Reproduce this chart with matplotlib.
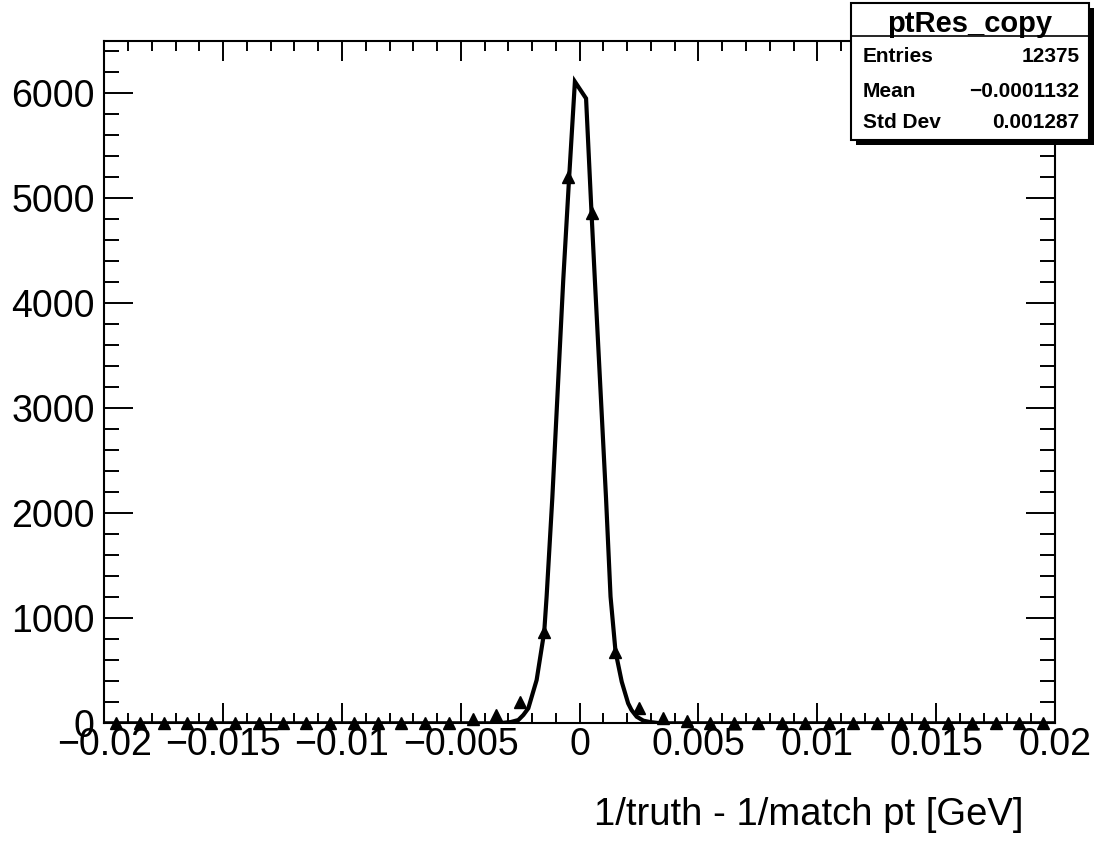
import numpy as np
import matplotlib
matplotlib.use("Agg")
import matplotlib.pyplot as plt
from matplotlib.patches import Rectangle
from matplotlib.lines import Line2D
from matplotlib.ticker import MultipleLocator, FuncFormatter

plt.rcParams['font.family'] = ['Liberation Sans', 'DejaVu Sans']

# histogram: 40 bins of width 0.001 between -0.02 and 0.02
bin_lo, bin_hi, n_bins = -0.02, 0.02, 40
counts = [0, 0, 0, 0, 0, 0, 0, 0, 0, 0,
          0, 0, 0, 0, 0, 40, 80, 205, 872, 5206,
          4857, 682, 143, 50, 20, 0, 0, 0, 0, 0,
          0, 0, 0, 0, 0, 0, 0, 0, 0, 0]

# fitted curve
curve_x = [-0.02, -0.0034, -0.0029, -0.00258, -0.00237, -0.00216, -0.00181,
           -0.00149, -0.00139, -0.00115, -0.00069, -0.00044, -0.0002,
           0.00027, 0.0005, 0.00064, 0.00111, 0.0013, 0.00151, 0.00177,
           0.00204, 0.00218, 0.0024, 0.00268, 0.00296, 0.0034, 0.02]
curve_y = [0, 0, 12, 31, 79, 143, 412,
           872, 1206, 2146, 4222, 5206, 6110,
           5950, 4857, 4222, 2143, 1206, 682, 396,
           190, 127, 63, 25, 12, 0, 0]

# stats box
stats_title = "ptRes_copy"
stats_names = ["Entries", "Mean", "Std Dev"]
stats_values = ["12375", "\u22120.0001132", "0.001287"]

xlabel = "1/truth - 1/match pt [GeV]"

W, H = 1108, 846
fig = plt.figure(figsize=(W / 100, H / 100), dpi=100)
ax = fig.add_axes([104.3 / W, 1 - 723.3 / H, (1055 - 104.3) / W, (723.3 - 40.7) / H])

edges = np.linspace(bin_lo, bin_hi, n_bins + 1)
centers = 0.5 * (edges[:-1] + edges[1:])

ax.plot(curve_x, curve_y, color='black', lw=3, solid_joinstyle='miter', zorder=3)
ax.plot(centers, counts, ls='none', marker='^', ms=8, color='black',
        clip_on=False, zorder=4)

ax.set_xlim(bin_lo, bin_hi)
ax.set_ylim(0, 6500)

ax.xaxis.set_major_locator(MultipleLocator(0.005))
ax.xaxis.set_minor_locator(MultipleLocator(0.001))
ax.yaxis.set_major_locator(MultipleLocator(1000))
ax.yaxis.set_minor_locator(MultipleLocator(200))


def xfmt(v, pos):
    if abs(v) < 1e-12:
        return "0"
    return ("%g" % v).replace("-", "\u2212")


ax.xaxis.set_major_formatter(FuncFormatter(xfmt))
ax.yaxis.set_major_formatter(FuncFormatter(lambda v, p: "%d" % round(v)))

ax.tick_params(axis='x', which='major', direction='in', length=14.4, width=1.4,
               top=True, labelsize=27, pad=3)
ax.tick_params(axis='x', which='minor', direction='in', length=7.2, width=1.4, top=True)
ax.tick_params(axis='y', which='major', direction='in', length=21, width=1.4,
               right=True, labelsize=27, pad=7)
ax.tick_params(axis='y', which='minor', direction='in', length=10.8, width=1.4, right=True)
for s in ax.spines.values():
    s.set_linewidth(1.5)

fig.text(1023 / W, 1 - 825 / H, xlabel, ha='right', va='baseline', fontsize=27.5)


# stats box in pixel coordinates (from top-left)
def fx(px):
    return px / W


def fy(py):
    return 1 - py / H


bx0, bx1, by0, by1 = 851, 1089, 3, 140
fig.add_artist(Rectangle((fx(bx0 + 5), fy(by1 + 5)), (bx1 - bx0) / W, (by1 - by0) / H,
                         transform=fig.transFigure, facecolor='black', edgecolor='none',
                         zorder=5))
fig.add_artist(Rectangle((fx(bx0), fy(by1)), (bx1 - bx0) / W, (by1 - by0) / H,
                         transform=fig.transFigure, facecolor='white', edgecolor='black',
                         lw=1.5, zorder=6))
fig.add_artist(Line2D([fx(bx0), fx(bx1)], [fy(36), fy(36)], transform=fig.transFigure,
                      color='black', lw=1.2, zorder=7))
fig.text(fx((bx0 + bx1) / 2), fy(31.5), stats_title, ha='center', va='baseline',
         fontsize=21, fontweight='bold', zorder=8)
for i, (name, val) in enumerate(zip(stats_names, stats_values)):
    yb = [61.7, 96.7, 128.3][i]
    fig.text(fx(862.7), fy(yb), name, ha='left', va='baseline', fontsize=15,
             fontweight='bold', zorder=8)
    fig.text(fx(1079.3), fy(yb), val, ha='right', va='baseline', fontsize=15,
             fontweight='bold', zorder=8)

fig.savefig("out.png", dpi=100)
